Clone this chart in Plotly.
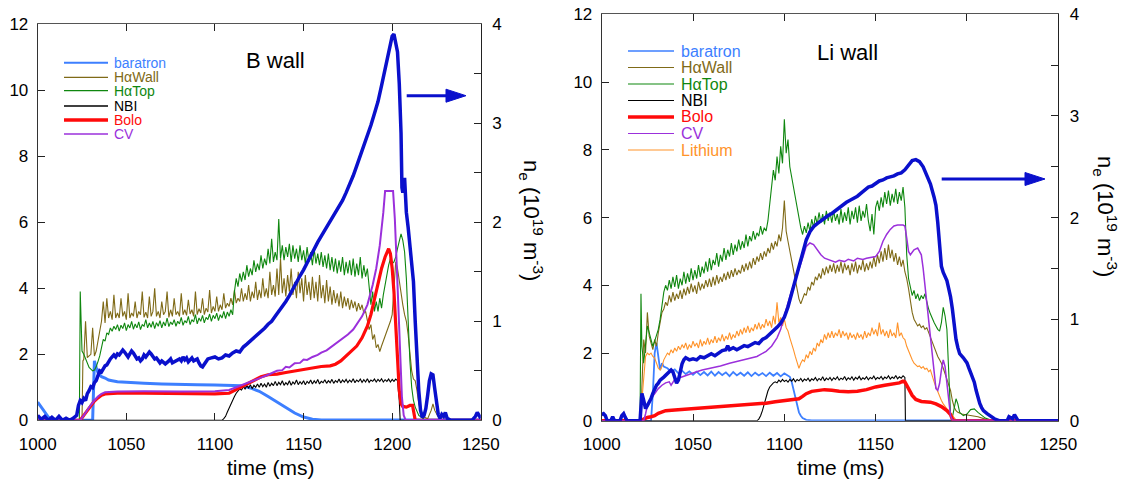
import plotly.graph_objects as go

W, H = 1125, 481

# ================= B wall (left panel) =================
bw_baratron = [(1000,0.55),(1002,0.4),(1004,0.25),(1006,0.1),(1008,0.03),(1010,0.0),(1031,0.0),(1031.5,1.5),
               (1032,1.8),(1033,1.6),(1034,1.45),(1035,1.38),(1036,1.32),(1038,1.28),(1040,1.22),(1042,1.2),
               (1045,1.17),(1050,1.15),(1055,1.13),(1060,1.12),(1070,1.1),(1080,1.1),(1090,1.08),(1100,1.07),
               (1110,1.06),(1115,1.05),(1120,0.98),(1125,0.88),(1130,0.72),(1135,0.55),(1140,0.38),(1145,0.22),
               (1150,0.1),(1155,0.03),(1160,0.01),(1250,0.01)]

bw_hawall_pre = [(1000,0.0),(1025,0.0),(1025.5,1.8)]
bw_hawall_start = 1026
bw_hawall = [1.85,3.0,1.9,1.95,2.0,2.8,1.95,2.1,2.4,2.8,
             3.0,3.6,2.95,3.7,3.1,3.3,3.05,3.8,3.1,3.25,
             3.1,3.7,3.15,3.3,3.05,3.85,3.1,3.25,3.15,3.6,
             3.1,3.3,3.2,3.9,3.12,3.28,3.1,3.75,3.15,3.3,
             4.0,3.15,3.3,3.1,3.6,3.2,3.3,3.9,3.12,3.35,
             3.15,3.7,3.2,3.3,3.15,3.85,3.2,3.35,3.18,3.65,
             3.22,3.35,3.15,3.9,3.2,3.38,3.25,3.7,3.2,3.4,
             3.28,3.95,3.25,3.45,3.3,3.75,3.3,3.5,3.35,3.85,
             3.4,3.55,3.45,3.7,3.5,3.95,3.55,3.7,3.6,4.0,
             3.6,3.85,3.65,4.1,3.6,3.9,3.7,4.2,3.65,3.95,
             3.7,4.3,3.75,4.0,3.7,4.5,3.8,4.1,3.75,4.6,
             3.8,4.9,3.85,4.3,3.75,4.4,3.9,4.6,3.8,4.2,
             3.7,4.5,3.85,4.3,3.6,4.4,3.8,4.2,3.65,4.35,
             3.7,4.2,3.6,4.4,3.7,4.1,3.55,4.25,3.6,4.05,
             3.5,3.95,3.55,3.85,3.45,3.9,3.4,3.75,3.45,3.7,
             3.35,3.65,3.4,3.6,3.3,3.55,3.35,3.5,3.25,3.3,
             3.0,2.75,2.9,2.45,2.6,2.2,2.3,2.08,2.25,2.4,
             2.5,2.7,2.8,3.0,3.2,4.0,4.8,4.6,4.2,3.8,
             3.5,3.2,3.0,2.6,2.0,1.5,1.25,1.2]
bw_hawall_post = [(1214,0.9),(1215,0.5),(1216,0.3),(1218,0.1),(1220,0.05),(1222,0.3),(1223,0.5),(1224,0.3),
                  (1226,0.1),(1228,0.0),(1250,0.0)]

bw_hatop_pre = [(1000,0.0),(1023.5,0.0),(1024,3.9),(1024.5,2.5),(1025,2.1)]
bw_hatop_start = 1026
bw_hatop = [2.0,1.85,1.75,1.6,1.55,1.5,1.52,1.62,1.78,1.95,
            2.2,2.45,2.4,2.65,2.6,2.8,2.7,2.85,2.75,2.9,
            2.7,2.88,2.78,2.95,2.72,2.9,2.8,3.0,2.76,2.92,
            2.8,2.98,2.75,2.9,2.85,3.05,2.8,2.95,2.82,3.0,
            2.78,2.96,2.85,3.02,2.8,2.98,2.86,3.1,2.84,2.98,
            2.9,3.05,2.85,3.0,2.92,3.12,2.88,3.02,2.95,3.15,
            2.9,3.05,2.98,3.2,2.92,3.1,3.0,3.18,2.95,3.12,
            3.05,3.22,3.0,3.18,3.08,3.25,3.02,3.2,3.1,3.3,
            3.08,3.28,3.15,3.35,3.2,3.9,4.3,4.05,4.45,4.2,
            4.5,4.25,4.7,4.35,4.6,4.4,4.85,4.5,4.75,4.55,
            5.0,4.6,4.9,4.7,5.2,4.75,5.5,4.8,5.1,4.85,
            6.1,4.9,5.3,4.85,5.25,4.95,5.35,4.8,5.3,4.9,
            5.2,4.8,5.3,4.85,5.15,4.75,5.25,4.8,5.1,4.7,
            5.2,4.75,5.05,4.7,5.1,4.65,5.0,4.6,5.05,4.55,
            4.95,4.5,4.9,4.45,4.85,4.5,4.95,4.4,4.8,4.45,
            4.85,4.4,4.9,4.35,4.75,4.4,4.95,4.3,4.7,4.35,
            4.6,4.0,3.5,3.9,3.3,3.6,3.3,3.7,3.4,3.8,
            4.1,4.5,4.7,4.9,4.75,4.8,4.95,5.2,5.45,5.65,
            5.45,5.1,4.3,3.0,1.8,1.0,0.6]
bw_hatop_post = [(1213,0.4),(1215,0.15),(1218,0.03),(1220,0.0),(1250,0.0)]

bw_nbi_pre = [(1000,0.0),(1104,0.0),(1105,0.05),(1106,0.12),(1107,0.25),(1108,0.38),(1109,0.5),(1110,0.6),
              (1111,0.72),(1112,0.82),(1113,0.88),(1114,0.95)]
bw_nbi_start = 1115
bw_nbi = [0.92,1.02,0.95,1.05,0.98,1.08,0.96,1.06,1.0,1.1,
          1.0,1.12,1.02,1.1,1.0,1.15,1.03,1.12,1.05,1.18,
          1.05,1.15,1.08,1.2,1.06,1.14,1.08,1.2,1.06,1.16,
          1.1,1.22,1.08,1.17,1.1,1.2,1.08,1.18,1.12,1.22,
          1.1,1.2,1.12,1.24,1.1,1.18,1.14,1.23,1.12,1.2,
          1.14,1.24,1.12,1.2,1.15,1.25,1.13,1.22,1.16,1.24,
          1.14,1.22,1.16,1.26,1.14,1.22,1.17,1.25,1.15,1.23,
          1.16,1.26,1.15,1.22,1.18,1.25,1.16,1.24,1.18,1.26,
          1.16,1.23,1.18,1.25,1.16,1.24,1.18,1.25,1.2]
bw_nbi_post = [(1204,0.6),(1204.5,0.0),(1250,0.0)]

bw_bolo = [(1000,0.0),(1024,0.0),(1026,0.15),(1028,0.3),(1030,0.45),(1032,0.58),(1034,0.68),(1036,0.76),
           (1038,0.8),(1045,0.82),(1060,0.82),(1080,0.8),(1100,0.8),(1108,0.82),(1111,0.9),(1114,1.0),
           (1118,1.08),(1122,1.2),(1126,1.32),(1130,1.38),(1135,1.4),(1140,1.45),(1145,1.5),(1150,1.55),
           (1155,1.6),(1160,1.63),(1165,1.65),(1168,1.7),(1171,1.8),(1174,1.95),(1177,2.1),(1180,2.25),
           (1183,2.5),(1186,2.85),(1188,3.2),(1190,3.7),(1192,4.2),(1194,4.6),(1196,4.95),(1198,5.2),
           (1199,5.05),(1200,4.6),(1201,3.9),(1202,2.9),(1203,1.8),(1204,0.9),(1205,0.5),(1206,0.42),
           (1208,0.4),(1210,0.45),(1211.5,0.45),(1212.5,0.05),(1213,0.0),(1250,0.0)]

bw_cv = [(1000,0.0),(1024,0.0),(1026,0.15),(1028,0.32),(1030,0.47),(1032,0.6),(1034,0.72),(1036,0.8),
         (1038,0.85),(1045,0.87),(1060,0.88),(1080,0.87),(1100,0.88),(1108,0.92),(1112,1.0),(1116,1.08),
         (1120,1.15),(1125,1.27),(1130,1.38),(1135,1.5),(1138,1.52),(1140,1.62),(1142,1.6),(1145,1.73),
         (1148,1.74),(1150,1.84),(1152,1.83),(1155,1.92),(1158,1.98),(1160,2.05),(1163,2.12),(1165,2.2),
         (1168,2.3),(1170,2.38),(1173,2.5),(1175,2.6),(1178,2.75),(1180,2.9),(1183,3.15),(1186,3.5),
         (1189,4.1),(1191,4.6),(1193,5.3),(1195,6.3),(1196,6.95),(1200.5,6.95),(1201.5,6.1),(1202.5,4.8),
         (1203.5,3.3),(1204.5,1.8),(1205.5,0.7),(1206.5,0.15),(1207.5,0.02),(1250,0.0)]

bw_ne = [(1000,0.05),(1002,0.01),(1004,0.04),(1006,0.0),(1008,0.03),(1010,0.0),(1012,0.04),(1014,0.0),
         (1016,0.02),(1018,0.0),(1020,0.02),(1022,0.05),(1023,0.15),(1024,0.2),(1025,0.18),(1026,0.22),
         (1027,0.2),(1028,0.27),(1029,0.3),(1030,0.34),(1031,0.33),(1032,0.38),(1033,0.4),(1034,0.46),
         (1035,0.5),(1036,0.49),(1037,0.53),(1038,0.55),(1039,0.56),(1040,0.6),(1041,0.62),(1042,0.64),
         (1043,0.66),(1044,0.64),(1045,0.67),(1046,0.66),(1047,0.68),(1048,0.71),(1049,0.69),(1050,0.66),
         (1051,0.64),(1052,0.67),(1053,0.7),(1054,0.68),(1055,0.64),(1056,0.62),(1057,0.63),(1058,0.6),
         (1059,0.62),(1060,0.66),(1061,0.64),(1062,0.66),(1063,0.69),(1064,0.67),(1065,0.64),(1066,0.62),
         (1067,0.63),(1068,0.6),(1069,0.58),(1070,0.6),(1072,0.57),(1074,0.6),(1075,0.62),(1076,0.58),
         (1078,0.6),(1080,0.62),(1081,0.6),(1082,0.64),(1083,0.61),(1084,0.63),(1085,0.59),(1086,0.61),
         (1087,0.63),(1088,0.6),(1090,0.62),(1091,0.58),(1092,0.55),(1093,0.54),(1094,0.57),(1095,0.6),
         (1096,0.62),(1098,0.63),(1100,0.64),(1102,0.62),(1104,0.63),(1106,0.66),(1108,0.65),(1110,0.68),
         (1112,0.7),(1114,0.69),(1116,0.74),(1118,0.77),(1120,0.8),(1122,0.84),(1124,0.87),(1126,0.9),
         (1128,0.93),(1130,0.97),(1132,1.0),(1134,1.05),(1136,1.1),(1138,1.14),(1140,1.2),(1142,1.26),
         (1144,1.33),(1146,1.4),(1148,1.46),(1150,1.52),(1152,1.59),(1154,1.66),(1156,1.74),(1158,1.8),
         (1160,1.86),(1162,1.92),(1164,1.98),(1166,2.03),(1168,2.09),(1170,2.16),(1172,2.22),(1174,2.3),
         (1176,2.38),(1178,2.47),(1180,2.57),(1182,2.67),(1184,2.78),(1186,2.88),(1188,2.98),(1190,3.1),
         (1192,3.22),(1194,3.38),(1196,3.55),(1198,3.72),(1199,3.82),(1200,3.88),(1201,3.9),(1202,3.8),
         (1203,3.72),(1204,3.4),(1205,2.9),(1205.5,2.35),(1206,2.3),(1207,2.45),(1207.5,2.3),(1208,2.1),
         (1209,1.95),(1210,1.78),(1211,1.6),(1212,1.4),(1213,1.0),(1214,0.62),(1215,0.3),(1216,0.1),
         (1217,0.03),(1218,0.05),(1219,0.12),(1220,0.25),(1221,0.4),(1222,0.47),(1223,0.46),(1224,0.32),
         (1225,0.15),(1226,0.06),(1227,0.02),(1228,0.06),(1229,0.04),(1230,0.08),(1231,0.02),(1233,0.0),
         (1245,0.0),(1247,0.04),(1248,0.08),(1249,0.05),(1250,0.02)]

# ================= Li wall (right panel) =================
li_baratron_pre = [(1000,0.0),(1027,0.0),(1028,0.8),(1029,2.0),(1030,2.3),(1031,1.9),(1032,1.5),(1033,1.7),(1034,1.6)]
li_baratron_start = 1036
li_baratron_step = 2
li_baratron = [1.55,1.45,1.52,1.4,1.48,1.38,1.46,1.36,1.45,1.35,1.44,1.34,1.45,1.33,1.44,1.35,1.43,
               1.32,1.44,1.34,1.42,1.33,1.43,1.32,1.42,1.34,1.41,1.32,1.42,1.33,1.41,1.31,1.4,1.32]
li_baratron_post = [(1103,1.3),(1104,1.15),(1105,0.9),(1106,0.65),(1107,0.42),(1108,0.25),(1109,0.15),
                    (1110,0.08),(1112,0.03),(1115,0.01),(1250,0.01)]

li_hawall_pre = [(1000,0.0),(1021.5,0.0),(1022,1.0),(1023,2.4),(1024,2.0),(1025,3.2)]
li_hawall_start = 1026
li_hawall = [2.5,2.3,2.1,2.4,2.2,2.6,2.9,3.2,3.3,3.5,
             3.4,3.7,3.5,3.8,3.55,3.75,3.6,3.85,3.6,3.9,
             3.7,3.95,3.75,4.05,3.8,4.0,3.75,4.1,3.85,4.05,
             3.9,4.15,3.95,4.2,3.95,4.25,4.0,4.3,4.05,4.25,
             4.1,4.35,4.15,4.4,4.2,4.45,4.25,4.5,4.3,4.45,
             4.35,4.6,4.4,4.65,4.45,4.7,4.5,4.8,4.6,4.85,
             4.7,4.95,4.75,5.0,4.85,5.1,4.95,5.25,5.05,5.3,
             5.15,5.5,5.3,5.7,6.5,5.6,5.3,5.0,4.7,4.4,
             4.1,3.85,3.6,3.45,3.6,3.75,3.7,3.95,3.85,4.1,
             4.0,4.25,4.15,4.35,4.2,4.5,4.3,4.55,4.35,4.6,
             4.4,4.65,4.35,4.6,4.4,4.7,4.35,4.65,4.45,4.6,
             4.3,4.65,4.4,4.7,4.35,4.6,4.45,4.75,4.4,4.65,
             4.45,4.7,4.5,4.85,4.55,4.9,4.65,5.0,4.7,5.1,
             4.75,5.2,4.8,5.05,4.7,4.95,4.6,4.85,4.55,4.75,
             4.4,4.2,3.9,3.5,3.2,3.0,2.9,2.8,2.85,2.75,
             2.8,2.7,2.75,2.6,2.5,2.35,2.2,2.05,1.9,1.8,
             1.7,1.55,1.4,1.25,1.1,0.9,0.6,0.4,0.3,0.25]
li_hawall_post = [(1197,0.2),(1200,0.18),(1203,0.15),(1206,0.12),(1210,0.05),(1213,0.0),(1250,0.0)]

li_hatop_pre = [(1000,0.0),(1021,0.0),(1021.5,3.75),(1022,2.2),(1023,1.7),(1024,2.3),(1025,2.8)]
li_hatop_start = 1026
li_hatop = [2.6,2.4,2.2,2.35,2.5,2.7,3.0,3.5,3.8,4.0,
            3.85,4.15,3.9,4.25,3.95,4.3,3.9,4.2,4.0,4.4,
            4.05,4.35,4.1,4.5,4.15,4.45,4.2,4.6,4.25,4.55,
            4.35,4.7,4.4,4.8,4.45,4.75,4.6,4.95,4.55,4.9,
            4.7,5.1,4.75,5.05,4.85,5.25,4.9,5.2,5.0,5.35,
            5.05,5.3,5.1,5.5,5.15,5.45,5.3,5.6,5.35,5.55,
            5.45,5.75,5.5,5.7,5.6,5.9,6.4,7.0,7.4,7.1,
            7.8,7.3,8.1,7.6,8.9,7.9,8.3,7.5,7.2,6.8,
            6.5,6.2,5.9,5.7,5.5,5.75,5.55,5.85,5.6,5.95,
            5.7,6.05,5.8,6.15,5.85,6.1,5.8,6.2,5.9,6.15,
            5.85,6.2,5.9,6.1,5.8,6.25,5.85,6.15,5.9,6.3,
            5.8,6.2,5.95,6.3,5.85,6.35,5.9,6.2,6.0,6.4,
            5.9,5.6,6.1,5.5,6.3,6.5,6.2,6.6,6.3,6.75,
            6.4,6.8,6.35,6.7,6.45,6.85,6.4,6.75,6.5,6.9,
            6.3,4.9,4.2,3.9,3.7,3.85,3.6,3.75,3.55,3.7,
            3.6,3.75,3.5,3.3,3.15,3.0,2.9,2.8,2.7,2.65,
            2.9,3.35,3.1,2.7,1.5,0.2]
li_hatop_post = [(1192,0.1),(1193,0.4),(1194,0.65),(1195,0.5),(1196,0.25),(1198,0.15),(1200,0.2),(1202,0.33),
                 (1204,0.35),(1206,0.25),(1208,0.15),(1210,0.08),(1213,0.02),(1250,0.0)]

li_nbi_pre = [(1000,0.0),(1085,0.0),(1086,0.05),(1087,0.15),(1088,0.3),(1089,0.5),(1090,0.7),(1091,0.88),
              (1092,1.0),(1093,1.08),(1094,1.12),(1095,1.15)]
li_nbi_start = 1096
li_nbi = [1.12,1.2,1.15,1.22,1.16,1.2,1.14,1.22,1.17,1.24,
          1.15,1.22,1.18,1.25,1.16,1.23,1.19,1.26,1.17,1.24,
          1.2,1.28,1.18,1.25,1.2,1.3,1.18,1.26,1.21,1.28,
          1.19,1.27,1.22,1.3,1.2,1.26,1.22,1.31,1.2,1.27,
          1.22,1.3,1.2,1.28,1.23,1.31,1.21,1.27,1.23,1.3,
          1.21,1.28,1.24,1.32,1.22,1.28,1.24,1.31,1.22,1.29,
          1.25,1.33,1.23,1.29,1.25,1.34,1.24,1.3,1.26,1.33]
li_nbi_post = [(1166,1.28),(1166.3,0.0),(1250,0.0)]

li_bolo = [(1000,0.0),(1021,0.0),(1023,0.05),(1025,0.1),(1027,0.12),(1029,0.15),(1031,0.22),(1033,0.27),
           (1035,0.3),(1040,0.32),(1045,0.34),(1050,0.35),(1055,0.37),(1060,0.38),(1065,0.4),(1070,0.42),
           (1075,0.44),(1080,0.46),(1085,0.48),(1090,0.52),(1095,0.56),(1100,0.6),(1105,0.62),(1108,0.65),
           (1110,0.72),(1112,0.8),(1115,0.87),(1118,0.9),(1122,0.92),(1126,0.9),(1130,0.87),(1135,0.86),
           (1140,0.87),(1145,0.92),(1150,1.0),(1155,1.05),(1160,1.08),(1163,1.12),(1165,1.17),(1166,1.15),
           (1168,0.95),(1170,0.75),(1172,0.63),(1175,0.57),(1180,0.55),(1183,0.5),(1186,0.42),(1189,0.3),
           (1191,0.18),(1192,0.05),(1193,0.0),(1250,0.0)]

li_cv = [(1000,0.0),(1023,0.0),(1024,0.2),(1025,0.45),(1027,0.65),(1029,0.82),(1031,0.95),(1033,1.05),
         (1035,1.12),(1037,1.15),(1038,1.05),(1040,1.22),(1043,1.28),(1046,1.35),(1049,1.4),(1052,1.45),
         (1055,1.5),(1060,1.55),(1065,1.62),(1070,1.7),(1075,1.76),(1080,1.82),(1085,1.9),(1090,2.05),
         (1093,2.2),(1096,2.45),(1098,2.7),(1100,3.1),(1102,3.5),(1104,3.85),(1106,4.15),(1108,4.45),
         (1110,4.8),(1112,5.15),(1114,5.25),(1116,5.2),(1118,5.05),(1120,4.9),(1122,4.8),(1125,4.75),
         (1128,4.68),(1130,4.74),(1133,4.7),(1135,4.77),(1138,4.72),(1140,4.8),(1143,4.76),(1145,4.8),
         (1148,4.82),(1150,4.85),(1152,5.0),(1154,5.3),(1156,5.5),(1158,5.65),(1160,5.75),(1162,5.78),
         (1165,5.78),(1166,5.75),(1167,5.4),(1168,5.0),(1169,4.9),(1171,5.05),(1173,5.1),(1175,4.9),
         (1176,4.5),(1177,4.0),(1178,3.4),(1179,2.8),(1180,2.3),(1181,1.8),(1182,1.3),(1183,0.95),
         (1184,0.9),(1185,1.1),(1186,1.5),(1187,1.8),(1188,1.6),(1189,1.1),(1190,0.5),(1191,0.15),
         (1192,0.02),(1250,0.0)]

li_lithium_pre = [(1000,0.0),(1021,0.0),(1022,0.6),(1023,1.4),(1024,1.9),(1025,2.0)]
li_lithium_start = 1026
li_lithium = [1.95,2.0,1.9,1.85,1.7,1.55,1.5,1.6,1.8,1.9,
              2.0,1.95,2.1,2.0,2.15,2.05,2.2,2.1,2.25,2.15,
              2.3,2.1,2.25,2.15,2.35,2.2,2.3,2.15,2.4,2.2,
              2.35,2.25,2.45,2.25,2.4,2.3,2.5,2.3,2.45,2.35,
              2.55,2.35,2.5,2.4,2.6,2.4,2.55,2.45,2.65,2.5,
              2.7,2.55,2.75,2.6,2.8,2.6,2.75,2.65,2.85,2.7,
              2.9,2.7,2.85,2.75,3.0,2.8,2.95,2.75,3.1,2.85,
              3.5,2.9,3.05,2.8,3.0,2.75,2.65,2.45,2.3,2.1,
              1.9,1.75,1.55,1.7,1.8,1.75,1.95,1.85,2.05,1.95,
              2.15,2.05,2.3,2.2,2.4,2.3,2.55,2.4,2.6,2.45,
              2.65,2.45,2.6,2.5,2.7,2.45,2.65,2.5,2.6,2.4,
              2.6,2.45,2.55,2.4,2.6,2.45,2.55,2.4,2.65,2.45,
              2.6,2.5,2.75,2.55,2.7,2.5,2.9,2.55,2.7,2.5,
              2.65,2.45,2.7,2.5,2.6,2.45,2.9,2.5,2.6,2.45,
              2.4,2.2,2.05,1.9,1.8,1.7,1.65,1.6,1.62,1.55,
              1.6,1.52,1.55,1.45,1.5,1.3,1.15,1.0,0.85,0.7,
              0.6,0.5,0.42,0.35,0.3,0.25,0.15,0.08,0.03,0.0]
li_lithium_post = [(1250,0.0)]

li_ne = [(1000,0.06),(1001,0.07),(1002,0.05),(1003,0.0),(1005,0.0),(1006,0.04),(1007,0.0),(1010,0.0),
         (1011,0.05),(1012,0.07),(1013,0.03),(1014,0.0),(1021,0.0),(1021.5,0.15),(1022,0.27),(1023,0.2),
         (1024,0.12),(1025,0.15),(1026,0.18),(1027,0.22),(1028,0.27),(1029,0.32),(1030,0.35),(1031,0.37),
         (1032,0.4),(1034,0.43),(1036,0.47),(1038,0.5),(1039,0.48),(1040,0.42),(1041,0.37),(1042,0.4),
         (1043,0.5),(1044,0.56),(1045,0.6),(1046,0.62),(1048,0.6),(1050,0.61),(1052,0.6),(1054,0.63),
         (1056,0.62),(1058,0.64),(1060,0.66),(1062,0.64),(1064,0.67),(1066,0.69),(1068,0.7),(1069,0.74),
         (1070,0.7),(1072,0.72),(1074,0.7),(1076,0.72),(1078,0.74),(1080,0.73),(1082,0.75),(1084,0.77),
         (1086,0.76),(1088,0.8),(1090,0.82),(1092,0.85),(1094,0.88),(1096,0.92),(1098,0.96),(1100,1.02),
         (1102,1.12),(1104,1.25),(1106,1.38),(1108,1.52),(1110,1.66),(1112,1.78),(1114,1.86),(1116,1.91),
         (1118,1.94),(1120,1.97),(1122,2.0),(1124,2.02),(1126,2.04),(1128,2.07),(1130,2.09),(1132,2.12),
         (1134,2.15),(1136,2.17),(1138,2.19),(1140,2.21),(1142,2.24),(1144,2.27),(1146,2.3),(1148,2.31),
         (1150,2.34),(1152,2.36),(1154,2.37),(1156,2.39),(1158,2.4),(1160,2.41),(1162,2.43),(1164,2.44),
         (1166,2.47),(1168,2.52),(1170,2.56),(1172,2.57),(1174,2.55),(1176,2.5),(1178,2.42),(1180,2.33),
         (1182,2.2),(1183,2.12),(1184,1.95),(1185,1.7),(1186,1.52),(1187,1.46),(1188,1.42),(1189,1.38),
         (1190,1.3),(1191,1.22),(1192,1.1),(1193,0.92),(1194,0.8),(1195,0.72),(1196,0.66),(1198,0.62),
         (1200,0.57),(1201,0.52),(1202,0.48),(1203,0.44),(1204,0.38),(1205,0.3),(1206,0.22),(1207,0.17),
         (1208,0.13),(1209,0.1),(1211,0.07),(1213,0.04),(1215,0.02),(1218,0.0),(1222,0.0),(1223,0.04),
         (1225,0.02),(1226,0.06),(1227,0.03),(1228,0.0),(1250,0.0)]

time_ticks = [1000, 1050, 1100, 1150, 1200, 1250]
left_ticks = [0, 2, 4, 6, 8, 10, 12]
ne_ticks = [0, 1, 2, 3, 4]

legend_left = ["baratron", "H\u03b1Wall", "H\u03b1Top", "NBI", "Bolo", "CV"]
legend_right = ["baratron", "H\u03b1Wall", "H\u03b1Top", "NBI", "Bolo", "CV", "Lithium"]

# ---------------- styles ----------------
C_BAR = "#3D7FFF"
C_HW = "#7F6A17"
C_HT = "#0F870F"
C_NBI = "#000000"
C_BOLO = "#FF0A0A"
C_CV = "#9B30DB"
C_LI = "#FF932A"
C_NE = "#0A10CC"
FONT = "Liberation Sans, Arial, Helvetica, sans-serif"


def pairs(p):
    return [a for a, b in p], [b for a, b in p]


def build(pre, start, dense, post, step=1):
    t = [a for a, b in pre] + [start + i * step for i in range(len(dense))] + [a for a, b in post]
    v = [b for a, b in pre] + list(dense) + [b for a, b in post]
    return t, v


fig = go.Figure()


def add(t, v, color, width, xa, ya):
    fig.add_trace(go.Scatter(x=t, y=v, mode="lines", line=dict(color=color, width=width),
                             xaxis=xa, yaxis=ya, showlegend=False, hoverinfo="skip"))


# left panel traces
add(*pairs(bw_baratron), C_BAR, 3, "x", "y")
add(*build(bw_hawall_pre, bw_hawall_start, bw_hawall, bw_hawall_post), C_HW, 1.1, "x", "y")
add(*build(bw_hatop_pre, bw_hatop_start, bw_hatop, bw_hatop_post), C_HT, 1.1, "x", "y")
add(*build(bw_nbi_pre, bw_nbi_start, bw_nbi, bw_nbi_post), C_NBI, 1.1, "x", "y")
add(*pairs(bw_bolo), C_BOLO, 3.2, "x", "y")
add(*pairs(bw_cv), C_CV, 2, "x", "y")
add(*pairs(bw_ne), C_NE, 3.5, "x", "y2")

# right panel traces
add(*build(li_baratron_pre, li_baratron_start, li_baratron, li_baratron_post, li_baratron_step), C_BAR, 1.8, "x2", "y3")
add(*build(li_hawall_pre, li_hawall_start, li_hawall, li_hawall_post), C_HW, 1.1, "x2", "y3")
add(*build(li_hatop_pre, li_hatop_start, li_hatop, li_hatop_post), C_HT, 1.1, "x2", "y3")
add(*build(li_lithium_pre, li_lithium_start, li_lithium, li_lithium_post), C_LI, 1.1, "x2", "y3")
add(*build(li_nbi_pre, li_nbi_start, li_nbi, li_nbi_post), C_NBI, 1.1, "x2", "y3")
add(*pairs(li_bolo), C_BOLO, 3.5, "x2", "y3")
add(*pairs(li_cv), C_CV, 1.5, "x2", "y3")
add(*pairs(li_ne), C_NE, 3.5, "x2", "y4")

# ---------------- layout ----------------
def px(x):
    return x / W


def py(y):
    return 1 - y / H


L1, R1, T1, B1 = 37.7, 480.8, 24.3, 420.3
L2, R2, T2, B2 = 601.7, 1058.3, 14.3, 420.8

tickfont = dict(family=FONT, size=17, color="black")
xcommon = dict(range=[1000, 1250], tickvals=time_ticks, ticks="inside", ticklen=7, tickcolor="#222",
               showline=True, linecolor="#555", linewidth=1, mirror="ticks", showgrid=False,
               zeroline=False, tickfont=tickfont, ticklabelstandoff=8, automargin=False)
ycommon = dict(range=[0, 12], tickvals=left_ticks, ticks="inside", ticklen=7, tickcolor="#222",
               showline=True, linecolor="#333", linewidth=1, mirror=True, showgrid=False,
               zeroline=False, tickfont=tickfont, ticklabelstandoff=5, automargin=False)
y2common = dict(range=[0, 4], tickvals=ne_ticks, ticks="inside", ticklen=7, tickcolor="#222",
                showline=True, linecolor="#222", linewidth=1, showgrid=False, zeroline=False,
                tickfont=tickfont, ticklabelstandoff=7, side="right", automargin=False,
                minor=dict(dtick=0.5, ticks="inside", ticklen=7, tickcolor="#222", showgrid=False))

fig.update_layout(
    width=W, height=H, margin=dict(l=0, r=0, t=0, b=0, autoexpand=False),
    paper_bgcolor="white", plot_bgcolor="white", showlegend=False,
    xaxis=dict(domain=[px(L1), px(R1)], anchor="y", **xcommon),
    yaxis=dict(domain=[py(B1), py(T1)], anchor="x", **ycommon),
    yaxis2=dict(overlaying="y", anchor="x", **y2common),
    xaxis2=dict(domain=[px(L2), px(R2)], anchor="y3", **xcommon),
    yaxis3=dict(domain=[py(B2), py(T2)], anchor="x2", **ycommon),
    yaxis4=dict(overlaying="y3", anchor="x2", **y2common),
)

annotations = []
shapes = []


def text(x, y, s, size, color="black", anchor="center", angle=0):
    annotations.append(dict(x=px(x), y=py(y), xref="paper", yref="paper", text=s, showarrow=False,
                            xanchor=anchor, yanchor="middle", textangle=angle,
                            font=dict(family=FONT, size=size, color=color)))


# panel labels and axis titles
text(275, 61, "B wall", 22)
text(847, 52, "Li wall", 22)
text(271, 467, "time (ms)", 21)
text(841, 467, "time (ms)", 21)
ne_title = "n<sub>e</sub> (10<sup>19</sup> m<sup>-3</sup>)"
text(532, 220, ne_title, 22, angle=90)
text(1106, 216, ne_title, 22, angle=90)

# legends
left_colors = [C_BAR, C_HW, C_HT, C_NBI, C_BOLO, C_CV]
left_widths = [2, 1.2, 1.2, 1.5, 3.5, 1.5]
left_rows = [62.7, 77.3, 90.7, 106, 120, 134]
for name, c, w, yy in zip(legend_left, left_colors, left_widths, left_rows):
    shapes.append(dict(type="line", xref="paper", yref="paper", x0=px(64), x1=px(108), y0=py(yy), y1=py(yy),
                       line=dict(color=c, width=w)))
    text(112, yy, name, 14, color=c, anchor="left")

right_colors = [C_BAR, C_HW, C_HT, C_NBI, C_BOLO, C_CV, C_LI]
right_widths = [1.5, 1.2, 1.2, 1.2, 3.5, 1.2, 1.2]
right_rows = [51, 67.5, 84, 100.5, 117, 133.5, 150]
for name, c, w, yy in zip(legend_right, right_colors, right_widths, right_rows):
    shapes.append(dict(type="line", xref="paper", yref="paper", x0=px(628), x1=px(674), y0=py(yy), y1=py(yy),
                       line=dict(color=c, width=w)))
    text(679, yy, name, 16, color=c, anchor="left")


# arrows pointing to right axes
def arrow(x0, x1, y, head=20, half=6.5):
    shapes.append(dict(type="line", xref="paper", yref="paper", x0=px(x0), x1=px(x1 - head + 2),
                       y0=py(y), y1=py(y), line=dict(color=C_NE, width=3)))
    path = "M {:.5f},{:.5f} L {:.5f},{:.5f} L {:.5f},{:.5f} Z".format(
        px(x1 - head), py(y - half), px(x1), py(y), px(x1 - head), py(y + half))
    shapes.append(dict(type="path", xref="paper", yref="paper", path=path,
                       fillcolor=C_NE, line=dict(color=C_NE, width=1)))


arrow(406.7, 466, 95.7)
arrow(941.7, 1045, 179)

fig.update_layout(annotations=annotations, shapes=shapes)
fig.write_html("out.html", config={"displayModeBar": False},
               post_script="document.body.style.margin='0px';document.body.style.overflow='hidden';")
